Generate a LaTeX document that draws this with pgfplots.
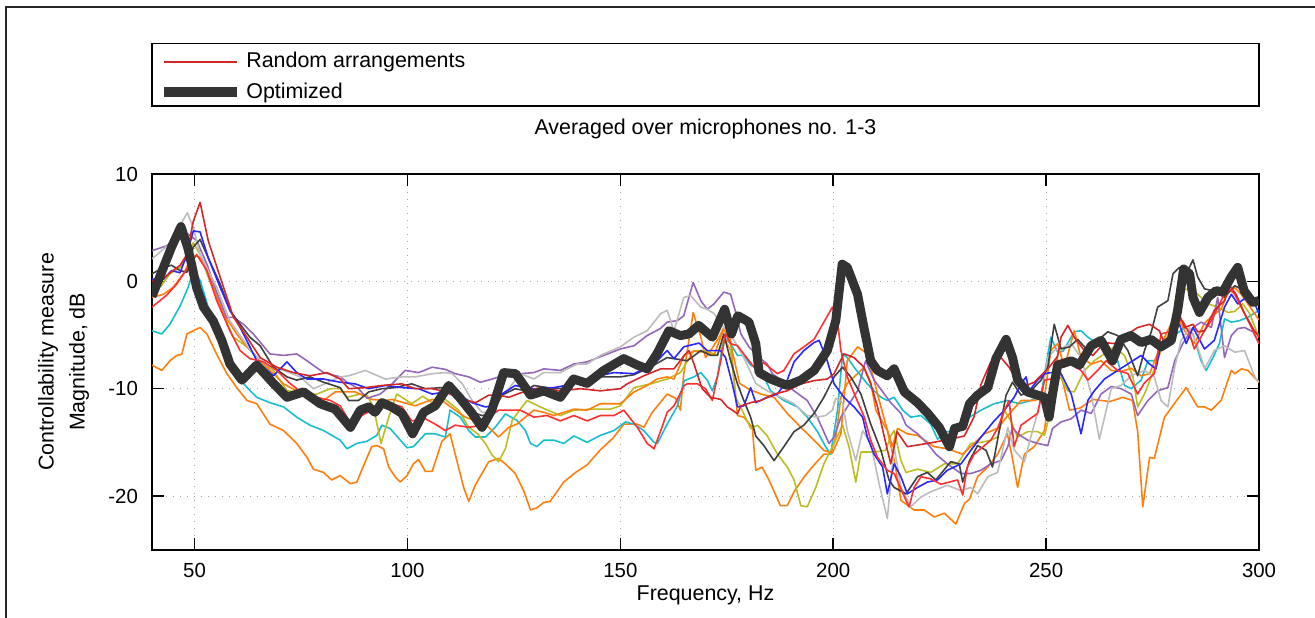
\documentclass[border=0pt]{standalone}
\usepackage{pgfplots}
\pgfplotsset{compat=1.18}
\usepackage{fontspec}
\setmainfont{Liberation Sans}
\definecolor{cRed}{RGB}{214,39,40}
\definecolor{cBRed}{RGB}{255,48,48}
\definecolor{cBlue}{RGB}{40,40,255}
\definecolor{cOrange}{RGB}{255,127,14}
\definecolor{cCyan}{RGB}{23,190,207}
\definecolor{cPurple}{RGB}{148,103,189}
\definecolor{cGray}{RGB}{188,188,188}
\definecolor{cOlive}{RGB}{188,189,34}
\definecolor{cDark}{RGB}{64,64,64}
\definecolor{cThick}{RGB}{51,51,51}
\begin{document}
\begin{tikzpicture}
\path[use as bounding box] (-76pt,-33.65pt) rectangle (581.5pt,274.85pt);
\draw[line width=0.75pt, black!85] (-73pt,-40pt) -- (-73pt,271.35pt) -- (600pt,271.35pt);
\draw[line width=0.75pt, black] (0pt,221.85pt) rectangle (553.5pt,253pt);
\begin{axis}[
  scale only axis, width=553.5pt, height=187.85pt,
  xmin=40, xmax=300, ymin=-25, ymax=10,
  xtick={50,100,150,200,250,300}, ytick={-20,-10,0,10},
  tick align=inside, major tick length=6pt,
  every tick/.style={black, line width=0.8pt},
  axis line style={line width=0.9pt},
  grid=major,
  major grid style={black!35, line width=0.5pt, dash pattern=on 0.5pt off 3pt},
  /pgf/number format/assume math mode=true,
  tick label style={font=\fontsize{10.2}{12}\selectfont},
  xticklabel style={anchor=base, inner sep=0pt, yshift=-13.8pt},
  yticklabel style={anchor=east, inner sep=0pt, xshift=-6.85pt},
  label style={font=\fontsize{10.7}{15.5}\selectfont},
  xlabel={Frequency, Hz},
  xlabel style={at={(axis description cs:0.5,-0.1363)}, anchor=base, inner sep=0pt},
  ylabel={Controllability measure\\Magnitude, dB},
  ylabel style={at={(axis description cs:-0.05646,0.5)}, anchor=south, inner sep=0pt, align=center},
  title={Averaged over microphones no. 1-3},
  title style={at={(axis description cs:0.5,1.0719)}, anchor=base, inner sep=0pt, font=\fontsize{10.7}{12}\selectfont},
  legend image code/.code={\draw[#1] (0pt,0pt) -- (36.5pt,0pt);},
  legend cell align=left,
  legend style={draw=none, fill=none, at={(axis description cs:0.00632,1.2582)}, anchor=west,
    inner sep=0pt, row sep=2pt, font=\fontsize{10.7}{13}\selectfont,
    /tikz/every even column/.append style={column sep=8pt}},
  every axis plot/.append style={line width=0.8pt, line join=round},
]
\addlegendimage{cRed, line width=0.8pt}
\addlegendentry{Random arrangements}
\addlegendimage{cThick, line width=5pt}
\addlegendentry{Optimized}

% orange low
\addplot[cOrange, forget plot] coordinates {
(40,-7.8)(42.3,-8.3)(44.2,-7.4)(45.8,-6.9)(47,-6.8)(48.2,-4.9)(49.7,-4.6)(51.3,-4.3)(52.9,-4.9)(55.2,-6.8)(57.6,-8.6)(59.9,-9.9)(62.3,-11.1)(64.6,-11.4)(67.7,-13.3)(70.9,-13.9)(74,-15.1)(76.4,-16.4)(77.9,-17.5)(80.3,-17.8)(82.2,-18.5)(84.2,-18.1)(86.6,-18.85)(88.1,-18.7)(90.1,-16.8)(91.6,-15.4)(92.8,-15.3)(94.4,-15.6)(95.6,-17.3)(97.1,-18.2)(98.3,-18.7)(99.9,-18.1)(101.4,-17.0)(102.6,-16.6)(104.2,-17.7)(105.8,-17.7)(108.1,-14.9)(110,-14.2)(111.6,-16.7)(113.2,-19.2)(114.4,-20.5)(115.9,-19.0)(117.5,-17.9)(119.1,-16.8)(121.4,-16.5)(123,-17.0)(125.3,-17.9)(127.3,-19.5)(128.9,-21.3)(130.4,-21.1)(132,-20.6)(133.5,-20.5)(136.7,-18.7)(139.5,-17.8)(142.2,-17.1)(145.3,-15.7)(148.3,-14.6)(150.8,-13.3)(154,-13.3)(155.5,-13.6)(157.5,-12.2)(161,-10.5)(163,-10.9)(164.1,-12.0)(164.9,-8.6)(167.1,-2.9)(168.9,-5.2)(170,-7.1)(171.2,-6.45)(173.2,-5.2)(174.3,-4.3)(175.9,-5.5)(177.5,-12.5)(179,-12.65)(181,-13.6)(181.8,-17.6)(183.3,-17.3)(184.9,-18.5)(187.6,-20.9)(189.2,-20.9)(190.8,-19.6)(193.2,-18.2)(195.5,-17.1)(197.8,-16.1)(199.4,-16.1)(200.6,-14.5)(201.8,-10.8)(203.3,-9.5)(205.7,-8.6)(207.2,-8.0)(208.8,-9.4)(210,-12.0)(212.7,-13.9)(214.5,-17.0)(215.9,-20.4)(219,-21.3)(221.4,-21.3)(223.7,-21.95)(226.1,-21.6)(228.8,-22.6)(230.8,-20.7)(232,-20.3)(233.9,-18.2)(236.3,-17.3)(238.6,-16.1)(240.9,-14.2)(242,-16.3)(243.3,-19.2)(244.9,-16.1)(247.2,-15.4)(249.6,-13.9)(251.1,-9.5)(252.5,-7.0)(254,-9.5)(255.5,-12.0)(258,-11.8)(261,-11.0)(265,-11.2)(268,-10.8)(270.3,-11.1)(271.5,-14.0)(272.7,-21.0)(274.3,-16.4)(275.4,-16.5)(277.8,-12.65)(280.1,-11.4)(282.9,-9.9)(285.6,-11.7)(287.2,-11.7)(288.8,-12.0)(291.1,-11.1)(293.5,-8.3)(294.3,-8.6)(295.9,-8.15)(297.4,-8.3)(300,-9.4)
};
% cyan
\addplot[cCyan, forget plot] coordinates {
(40,-4.6)(42.3,-4.9)(44.2,-4.0)(46.6,-2.3)(48.5,-0.55)(49.7,1.0)(51.3,0.1)(53.2,-2.4)(55.2,-4.6)(58.3,-8.0)(61.5,-9.55)(64.6,-10.8)(67.7,-11.3)(70.9,-11.7)(74,-12.65)(77.1,-13.4)(80.3,-13.9)(84.2,-14.8)(85.8,-15.6)(88.1,-15.1)(90.5,-14.9)(92.8,-14.35)(94,-13.4)(95.9,-13.7)(97.9,-14.6)(99.9,-15.5)(101.4,-15.4)(104.2,-14.2)(106.5,-14.2)(108.9,-14.5)(110,-12.0)(112.4,-12.65)(114.4,-13.9)(115.9,-14.5)(118.3,-14.5)(120.6,-13.6)(123,-12.35)(125.7,-12.95)(127.7,-13.9)(128.9,-15.1)(130.4,-15.4)(132,-14.8)(134.4,-14.8)(136.7,-15.1)(139.1,-14.4)(142.2,-15.0)(145.3,-14.35)(148.5,-13.9)(151.2,-13.1)(153.2,-13.3)(155.5,-13.9)(157.9,-15.0)(158.7,-15.1)(161,-13.3)(163.4,-11.6)(165,-9.25)(167.3,-8.9)(168.9,-8.5)(170.4,-9.2)(171.6,-10.2)(172.8,-8.9)(174.3,-5.2)(175.9,-5.8)(177.5,-6.9)(179,-6.9)(180.6,-7.8)(183,-8.3)(185.3,-10.2)(188.4,-11.1)(191.6,-11.7)(193.9,-12.65)(196.3,-14.0)(198.2,-15.4)(199.4,-16.1)(201,-12.0)(202.2,-6.75)(203.3,-7.1)(204.9,-8.0)(206.5,-8.8)(208,-9.55)(209.6,-10.2)(211.2,-10.8)(212.7,-11.1)(214.3,-10.8)(216.3,-12.0)(218.2,-12.65)(220.6,-12.5)(222.9,-13.3)(224.5,-14.7)(226.5,-14.0)(228,-14.0)(230,-13.6)(232,-12.65)(234.7,-12.0)(237.8,-11.4)(241,-11.1)(243.7,-11.4)(246.4,-11.1)(248.8,-10.6)(251.1,-5.2)(252.7,-6.6)(254,-6.5)(256.6,-4.7)(258.2,-4.6)(259.8,-5.2)(262.1,-5.8)(264.5,-6.45)(266.8,-7.4)(268.4,-9.7)(270,-10.0)(272.3,-9.2)(273.9,-7.4)(275.4,-7.4)(277,-6.45)(278.6,-5.8)(280.2,-5.05)(282.5,-4.3)(284.5,-4.9)(286.4,-7.4)(287.6,-8.3)(289.2,-7.1)(290.7,-5.8)(291.9,-3.5)(293.5,-3.8)(295.4,-3.66)(297.4,-3.35)(300,-2.7)
};
% olive
\addplot[cOlive, forget plot] coordinates {
(40,-0.4)(42,-0.5)(44.2,0.7)(46.6,1.3)(48.2,2.2)(49.7,3.6)(51.3,2.5)(53.2,0.4)(56,-2.4)(59.1,-5.2)(62.3,-6.1)(65.4,-7.4)(68.5,-8.3)(71.7,-10.2)(74,-10.3)(76.4,-10.6)(78.7,-10.5)(81.9,-10.0)(84.2,-10.0)(85.8,-10.8)(88.9,-10.5)(90.5,-10.6)(92,-11.7)(93.8,-15.1)(95.6,-12.65)(97.5,-10.5)(101,-11.4)(103.6,-10.7)(105.8,-11.3)(108.9,-11.0)(112,-12.0)(114.4,-13.6)(116.5,-14.2)(118.3,-15.1)(119.9,-16.2)(121.4,-16.8)(123,-15.6)(124.6,-12.95)(126.9,-11.7)(128.1,-11.1)(131.2,-11.7)(135.9,-12.5)(139.1,-12.0)(143.8,-11.9)(147.7,-11.9)(150,-11.6)(153.2,-9.9)(157.1,-9.55)(161,-9.1)(164.1,-8.5)(167.3,-6.45)(170.4,-6.5)(172.8,-6.9)(174.3,-5.2)(175.9,-6.45)(177.1,-10.8)(178.6,-12.0)(180.6,-13.7)(182.2,-13.4)(184.5,-14.4)(186.9,-16.1)(189.2,-17.3)(190.8,-18.5)(192.4,-20.9)(193.9,-21.0)(195.9,-19.2)(197.8,-17.0)(200.2,-15.1)(202.2,-13.4)(203.7,-15.4)(205.3,-18.7)(206.5,-15.9)(209.6,-15.9)(212.3,-15.75)(213.5,-14.4)(214.3,-13.9)(215.9,-16.7)(217.1,-17.8)(219.8,-17.5)(222.9,-17.8)(226.1,-17.0)(229.2,-17.0)(232.3,-15.1)(234.7,-15.0)(237,-14.8)(238.6,-14.5)(240.2,-12.0)(241.7,-13.0)(243.3,-14.5)(245.7,-14.0)(248,-14.0)(249.6,-14.35)(250.7,-12.65)(251.9,-8.9)(253.5,-9.0)(255.1,-10.2)(256.6,-10.3)(259,-8.3)(261.3,-7.4)(263.7,-6.75)(266,-6.1)(268.4,-6.9)(270.4,-8.9)(271.5,-11.7)(273.1,-10.5)(275.1,-8.5)(277,-6.45)(279.4,-4.3)(280.9,-0.5)(283.3,-0.8)(285.6,-1.2)(288,-2.1)(290.3,-2.4)(292.7,-2.9)(294.3,-2.8)(296.2,-2.1)(297.8,-3.0)(300,-5.2)
};
% orange mid
\addplot[cOrange, forget plot] coordinates {
(40,-1.5)(42.7,-1.2)(45,-0.55)(47.4,0.7)(48.9,1.9)(50.5,2.4)(52.1,1.9)(54.4,-0.55)(56.8,-3.0)(59.9,-4.9)(62.3,-6.1)(65.4,-7.4)(68.5,-8.6)(70.9,-9.55)(74,-10.2)(77.1,-10.8)(80.3,-11.1)(83,-10.3)(87.7,-10.3)(91.6,-11.0)(94.8,-11.1)(96.4,-11.0)(101.8,-11.6)(105.8,-11.0)(108.1,-11.1)(111.2,-12.0)(113.6,-12.65)(116,-13.0)(119.1,-13.6)(121.4,-14.5)(123.8,-13.6)(125.7,-13.3)(127.7,-12.65)(129.7,-12.0)(132,-12.2)(134.4,-12.5)(139.1,-11.9)(142.2,-12.0)(145.3,-11.4)(150,-11.4)(153.2,-10.3)(156.3,-9.7)(158.6,-9.1)(161,-8.9)(162.6,-9.1)(165,-6.9)(167.3,-6.5)(170,-6.6)(172,-6.9)(174.3,-4.4)(176,-6.0)(178,-9.5)(180,-10.0)(183,-10.5)(186.1,-10.8)(189.2,-12.3)(192.4,-13.6)(195.5,-14.8)(197.8,-15.75)(199.8,-16.0)(201.8,-14.2)(203.3,-7.4)(205.7,-6.1)(208,-6.75)(210.4,-10.5)(212.3,-13.3)(213.9,-15.4)(215.1,-13.7)(217.4,-14.2)(219.8,-14.35)(223.7,-15.4)(226.8,-15.6)(230.4,-16.1)(233.1,-15.1)(235.5,-14.2)(238.6,-13.7)(241,-12.5)(244.1,-11.1)(247.2,-11.1)(249.6,-10.8)(251.1,-6.45)(252.7,-5.8)(254.3,-8.0)(256.6,-4.6)(258.2,-7.1)(260.6,-7.7)(262.9,-7.4)(265.3,-8.3)(267.6,-8.4)(270,-8.1)(272.3,-8.8)(274.3,-8.6)(277,-5.9)(279.4,-3.9)(280.9,-3.3)(282.5,-4.6)(284.8,-5.8)(287.2,-3.9)(288.8,-3.3)(291.1,-2.6)(292.7,-1.0)(294.3,-0.6)(295.8,-1.2)(297.4,-2.1)(300,-3.6)
};
% purple
\addplot[cPurple, forget plot] coordinates {
(40,2.86)(43.4,3.3)(46.6,4.25)(48.5,4.4)(50.5,3.8)(53,1.5)(55,-0.8)(57.5,-3.35)(59.1,-3.35)(61.5,-4.0)(63.8,-4.9)(67.7,-6.76)(70.9,-6.9)(74,-6.76)(76.4,-7.4)(80.3,-8.5)(84.2,-8.9)(85.8,-9.4)(88.5,-10.0)(90.5,-10.9)(93.6,-10.5)(96,-9.7)(99.5,-8.3)(102.6,-8.5)(105.8,-8.0)(108.9,-8.2)(111.2,-8.6)(114.4,-8.9)(117.1,-9.4)(119.9,-9.1)(122.2,-8.8)(126.5,-8.6)(129.7,-8.5)(132,-8.15)(135.9,-8.3)(139.1,-7.7)(142.2,-7.5)(146.1,-6.9)(150,-6.3)(153.2,-6.0)(156.3,-5.05)(159.4,-4.4)(161,-3.8)(163.4,-3.66)(164.9,-3.2)(167.1,-0.1)(168.9,-1.8)(170.4,-2.6)(172,-2.1)(174.3,-1.0)(175.9,-1.2)(177.1,-2.9)(178.3,-4.9)(180.2,-6.1)(182.6,-7.1)(184.5,-7.7)(185.7,-8.6)(187.7,-9.2)(190.8,-10.2)(193.9,-11.1)(196.3,-12.7)(199,-15.1)(200.2,-14.5)(201.8,-12.65)(203.3,-11.7)(205.7,-10.2)(207.6,-7.4)(209.6,-9.2)(212,-10.5)(213.5,-11.3)(215.9,-12.3)(217.1,-13.4)(219.8,-14.2)(222.1,-15.1)(224.1,-16.1)(226.8,-17.0)(230,-17.9)(232.3,-17.9)(234.7,-17.6)(237,-17.0)(239.4,-16.7)(241,-15.4)(242.1,-13.6)(243.3,-14.2)(245.7,-14.8)(248,-15.1)(250.4,-15.3)(251.5,-13.7)(253.5,-13.1)(255.9,-12.8)(258.2,-12.0)(260.6,-12.3)(262.9,-10.5)(265.3,-9.8)(267.6,-10.0)(270,-10.5)(271.5,-12.5)(273.9,-11.1)(276.2,-10.2)(278.6,-9.9)(280.2,-7.4)(282.1,-5.8)(284.5,-4.3)(286.4,-3.8)(288.8,-4.3)(290.3,-1.5)(291.9,-7.1)(293.5,-5.05)(295,-4.4)(296.6,-4.3)(298.6,-4.7)(300,-5.8)
};
% light gray
\addplot[cGray, forget plot] coordinates {
(40,2.1)(44.2,3.5)(48.3,6.4)(49.7,5.0)(51.3,2.5)(55.2,-0.55)(58.3,-3.7)(61.5,-5.5)(63.8,-6.8)(67,-7.8)(70.9,-8.3)(74.8,-8.9)(77.9,-10.0)(80.3,-9.6)(84.2,-8.9)(86.2,-8.8)(90.1,-8.3)(94.8,-9.1)(98.7,-8.9)(101.8,-8.9)(105.8,-8.6)(108.9,-8.5)(110.5,-8.6)(112.8,-9.5)(115.2,-11.1)(117.5,-12.2)(119.9,-12.2)(121.4,-10.8)(123.8,-10.0)(126.5,-8.6)(129.7,-9.1)(132,-8.5)(135.9,-8.5)(139.9,-7.7)(142.2,-7.7)(145.3,-6.9)(150,-6.1)(153.2,-5.2)(156.3,-4.6)(159.5,-3.0)(161,-2.7)(162.6,-4.6)(164.9,-1.5)(166.5,-1.33)(168.9,-2.4)(170.4,-2.6)(172,-3.0)(174.3,-4.3)(176.7,-5.5)(179,-7.1)(181.8,-9.5)(184.5,-10.2)(187.7,-10.8)(190.8,-11.4)(192.4,-12.0)(193.9,-12.5)(196.3,-12.65)(198.2,-12.5)(199.8,-12.0)(200.6,-10.9)(202.2,-11.3)(203.3,-13.9)(205.3,-16.7)(206.9,-13.9)(208.8,-15.1)(210.8,-18.9)(212.7,-22.1)(214.3,-15.4)(215.9,-19.2)(218.2,-21.0)(220.6,-20.1)(222.9,-19.6)(226.8,-19.0)(230,-19.5)(232.3,-19.2)(233.9,-19.8)(236.3,-18.2)(238.6,-17.8)(241,-13.6)(242.5,-15.7)(244.9,-16.8)(246.4,-14.5)(248.8,-11.1)(250.4,-7.1)(251.9,-6.45)(254.3,-6.1)(255.9,-5.8)(258.2,-7.1)(260.6,-10.5)(262.5,-14.7)(265.3,-10.0)(267.6,-9.7)(270,-8.8)(273.1,-8.3)(275.4,-8.9)(277,-11.1)(278.6,-11.7)(280.2,-8.0)(281.7,-5.5)(283.7,-4.3)(285.6,-6.1)(287.2,-8.15)(289.5,-6.45)(291.9,-6.0)(294.3,-6.6)(296.6,-6.45)(299,-8.9)(300,-9.4)
};
% dark gray
\addplot[cDark, forget plot] coordinates {
(40,0.7)(42.7,1.3)(44.6,1.5)(46.6,1.0)(48.2,0.85)(49.7,3.2)(51.3,3.9)(53.2,2.2)(56,-0.25)(58.3,-2.7)(60.7,-4.0)(63,-5.2)(65.4,-6.0)(68.5,-8.0)(71.7,-8.9)(74,-9.2)(77.1,-8.9)(80.3,-9.4)(84.2,-9.9)(86.2,-11.1)(88.5,-11.1)(90.9,-10.3)(94,-10.0)(97.1,-9.9)(101,-9.55)(104.2,-10.0)(108.1,-9.9)(110.5,-10.3)(112.8,-11.1)(115.2,-12.2)(117.5,-12.5)(119.9,-12.35)(122.2,-10.6)(125.3,-10.0)(127.7,-10.2)(129.7,-9.7)(132.8,-9.9)(136.7,-10.0)(140.6,-9.25)(145.3,-8.9)(150,-8.9)(153.2,-8.7)(157,-8.0)(161,-7.1)(165.7,-7.4)(168.9,-6.45)(171.2,-6.9)(172.8,-6.9)(174.3,-4.9)(175.9,-7.4)(177.5,-9.55)(179,-11.1)(180.6,-12.65)(181.8,-14.4)(183.7,-15.3)(186.1,-16.7)(188.4,-15.4)(190.8,-14.0)(193.1,-13.4)(195.5,-12.3)(197.8,-10.8)(200.2,-8.9)(202.2,-8.0)(204.1,-8.9)(206.5,-10.5)(208.8,-13.3)(211.2,-15.75)(213.1,-18.5)(214.3,-19.2)(217.1,-19.8)(219.8,-18.2)(222.1,-17.8)(224.1,-18.5)(227.6,-16.8)(229.6,-17.0)(230.4,-18.7)(232,-16.7)(233.9,-15.3)(235.9,-15.75)(237.4,-17.3)(239,-13.9)(240.6,-10.6)(242.1,-9.4)(244.1,-10.6)(246.4,-10.2)(248.8,-9.2)(250.4,-8.0)(251.9,-4.0)(253.5,-6.3)(255.5,-6.1)(257.4,-5.4)(259.8,-6.45)(262.1,-5.5)(264.5,-4.7)(266.8,-5.05)(269.2,-6.45)(271.5,-8.8)(273.1,-6.45)(274.7,-4.7)(276.2,-2.4)(278.6,-1.8)(279.8,0.7)(281.3,1.3)(282.9,0.7)(284.5,2.0)(285.6,0.4)(287.2,-0.7)(289.5,-0.9)(291.9,-1.5)(294.3,-0.4)(296.6,-0.9)(299,-1.6)(300,-1.8)
};
% blue
\addplot[cBlue, forget plot] coordinates {
(40,0.2)(42.7,0.2)(44.6,1.0)(46.6,0.8)(48.2,2.5)(49.7,4.7)(51.3,4.6)(53.2,2.2)(56,-0.55)(58.3,-2.7)(60.7,-4.3)(63,-6.1)(64.6,-7.4)(68.5,-8.8)(71.7,-7.5)(74,-8.5)(76.4,-9.1)(80.3,-9.1)(84.2,-9.4)(87.7,-9.55)(90.9,-10.0)(94.8,-9.7)(98.7,-9.9)(102.6,-10.0)(105.8,-10.5)(108.9,-10.3)(112,-10.6)(115.2,-11.3)(118.3,-11.7)(119.9,-11.6)(122.2,-10.5)(125.3,-9.7)(127.7,-9.9)(129.7,-10.0)(134.4,-9.9)(139.1,-9.55)(143.8,-8.9)(148.5,-8.5)(153.2,-8.6)(157.9,-7.7)(161,-6.45)(162.6,-7.2)(164.9,-6.1)(168.5,-5.75)(170.4,-6.45)(173.5,-6.45)(174.7,-7.1)(176.3,-9.55)(177.5,-11.7)(179,-11.6)(180.6,-9.9)(181.8,-11.3)(184.5,-10.8)(186.9,-10.5)(189.2,-9.2)(190.8,-7.5)(193.1,-6.45)(195.5,-5.7)(196.7,-5.5)(198.6,-7.4)(200.2,-9.55)(202.5,-10.8)(204.9,-11.7)(206.9,-12.65)(208,-14.5)(209.6,-16.1)(211.6,-17.3)(212.7,-19.8)(214.3,-17.0)(215.9,-18.2)(217.4,-19.8)(219.8,-19.2)(222.1,-18.7)(224.5,-18.5)(226.8,-17.6)(230,-17.0)(232.3,-15.75)(234.7,-14.5)(237.8,-13.0)(240.2,-12.0)(242.5,-10.8)(244.1,-9.55)(245.3,-8.9)(246,-10.2)(248,-9.2)(249.6,-8.6)(251.1,-8.5)(253.5,-8.6)(255.9,-10.5)(258.2,-14.2)(259.8,-11.1)(261.3,-10.2)(263.7,-9.1)(266.8,-8.3)(269.2,-7.7)(272.3,-6.9)(274.3,-7.7)(275.8,-8.15)(277,-5.8)(280.2,-4.7)(281.3,-4.0)(282.9,-5.8)(284.5,-4.3)(287.2,-6.3)(289.5,-5.5)(291.9,-2.4)(293.5,-1.2)(295,-2.1)(296.6,-1.6)(299,-2.1)(300,-3.0)
};
% bright red
\addplot[cBRed, forget plot] coordinates {
(40,-2.4)(43.4,-1.3)(45.8,-0.25)(47.4,0.7)(48.9,1.6)(50.5,2.5)(52.9,1.0)(55.2,-1.8)(58.3,-4.6)(60.7,-6.45)(63,-7.2)(66.2,-7.5)(69.3,-8.3)(72.4,-9.5)(75.6,-10.5)(78.7,-10.8)(81.9,-11.1)(84.2,-11.6)(86.9,-13.4)(89.3,-12.5)(91.6,-12.0)(94,-11.6)(95.6,-11.3)(98.7,-11.7)(101,-13.0)(104.2,-12.8)(106.5,-13.3)(108.9,-13.9)(111.2,-13.4)(114.4,-13.6)(117.5,-13.4)(119.1,-12.65)(121.4,-12.0)(126.5,-12.0)(129.7,-12.65)(132.8,-12.5)(135.9,-13.0)(139.1,-12.5)(142.2,-13.0)(145.3,-12.5)(148.5,-12.5)(150.8,-12.0)(154,-13.6)(156.3,-15.1)(157.9,-15.6)(159.5,-13.9)(161,-12.2)(162.6,-11.6)(165,-9.7)(165.7,-9.55)(168.1,-9.55)(170,-10.0)(171.6,-11.1)(173.6,-7.4)(174.7,-4.9)(175.9,-5.8)(177.5,-6.0)(181.4,-8.0)(183.7,-7.6)(186.9,-8.6)(188.4,-8.3)(190.8,-6.75)(193.1,-6.1)(195.5,-5.4)(197.8,-3.8)(199.8,-2.4)(200.9,-3.35)(201.8,-6.45)(203.3,-8.9)(205.3,-10.8)(207.3,-12.65)(208.8,-14.8)(210.4,-16.4)(212.7,-17.6)(214.3,-17.9)(217.1,-20.4)(217.8,-21.0)(219,-19.2)(220.6,-18.2)(222.9,-18.4)(225.3,-18.9)(229.2,-18.5)(230.4,-19.9)(231.5,-17.3)(233.1,-16.1)(237,-14.8)(238.6,-13.7)(240.2,-12.0)(241.3,-11.1)(242.5,-15.4)(244.1,-13.4)(248,-12.3)(249.6,-9.2)(251.1,-9.1)(253.5,-7.4)(255.9,-7.7)(258.2,-8.3)(259.8,-9.2)(262.1,-8.3)(264.1,-7.4)(266.8,-8.3)(269.2,-8.6)(271.5,-10.5)(273,-9.5)(275.4,-8.6)(277,-4.9)(279,-4.7)(280.5,-3.35)(282.1,-3.7)(283.7,-4.9)(284.8,-6.3)(287.2,-4.6)(288.8,-3.66)(291.1,-1.8)(292.7,-0.55)(294.3,-1.2)(296.2,-2.7)(298.6,-4.6)(300,-5.8)
};
% dark red
\addplot[cRed, forget plot] coordinates {
(40,0.0)(42.7,0.3)(44.6,0.9)(46.6,1.5)(48.2,2.5)(49.7,5.6)(51.3,7.35)(53.2,3.8)(56,0.4)(59.1,-3.3)(62.3,-5.2)(65.4,-7.1)(69.3,-8.0)(73.2,-8.5)(77.1,-8.8)(81.1,-8.5)(84.2,-9.1)(86.2,-10.0)(90.1,-9.9)(94,-9.7)(98.7,-9.55)(101.8,-10.0)(105.8,-10.0)(108.1,-10.2)(112.8,-10.95)(116,-11.3)(119.1,-10.6)(121.4,-10.6)(123.8,-10.8)(126.5,-10.4)(131.2,-9.9)(135.9,-10.2)(140.6,-10.0)(145.3,-10.2)(150,-10.0)(151.6,-9.55)(155.5,-8.8)(159.5,-8.15)(162.6,-8.15)(165,-6.9)(166.1,-6.45)(167.3,-7.7)(169.2,-10.0)(171.2,-10.8)(173.6,-11.0)(175.1,-11.7)(176.3,-12.0)(177.5,-12.35)(178.3,-11.6)(180.6,-11.3)(183,-11.1)(186.1,-10.5)(189.2,-10.2)(192.4,-9.55)(195.5,-9.25)(198.6,-9.1)(200.2,-8.6)(202.5,-6.75)(204.9,-7.1)(207.2,-8.0)(208.8,-9.55)(210.4,-11.7)(212,-14.5)(213.5,-17.0)(215,-14.0)(217.4,-15.4)(222.1,-15.1)(227.6,-14.7)(230.8,-14.4)(233.1,-12.6)(234.7,-9.6)(237,-7.5)(239.4,-7.1)(241.3,-8.0)(244.1,-9.9)(247.2,-9.4)(250.4,-8.15)(252.7,-7.0)(253.5,-5.2)(255.1,-4.1)(256.6,-5.2)(259,-6.45)(261,-6.9)(263.7,-5.7)(266,-5.8)(269.2,-4.9)(271.5,-4.3)(274.3,-4.0)(276.6,-4.6)(277.8,-5.8)(279.4,-4.9)(280.9,-2.7)(282.5,-4.3)(284.5,-4.0)(285.6,-4.7)(287.2,-4.6)(289.5,-2.7)(291.9,-1.8)(293.1,-0.4)(294.6,-1.2)(296.6,-3.0)(298.6,-4.4)(300,-5.2)
};
% optimized
\addplot[cThick, line width=4.5pt, forget plot] coordinates {
(40,-1.4)(42.7,1.3)(44.6,3.2)(46.8,5.1)(48.5,3.0)(50.5,-0.6)(52.1,-2.4)(54.4,-3.7)(56.4,-5.5)(58.3,-7.7)(61.1,-9.2)(64.6,-7.8)(68.5,-9.5)(71.7,-10.8)(75.6,-10.3)(79.5,-11.4)(83,-11.9)(86.6,-13.6)(88.9,-12.0)(90.9,-11.7)(92.4,-12.2)(94,-11.3)(96.3,-11.7)(98.7,-12.3)(101.2,-14.2)(103.8,-12.2)(106.5,-11.6)(109.7,-9.7)(112.4,-10.9)(115.2,-12.3)(117.5,-13.6)(119.8,-12.0)(122.6,-8.5)(125.4,-8.6)(127.7,-9.9)(128.9,-10.6)(132,-10.2)(135.9,-10.8)(139,-9.1)(142.2,-9.5)(146.1,-8.3)(150.8,-7.2)(154,-7.8)(156.3,-8.15)(158.6,-6.75)(161.4,-4.6)(164.1,-5.05)(166.1,-4.9)(168.4,-4.1)(171.6,-5.2)(174.5,-2.6)(176.1,-4.9)(177.6,-3.2)(180.2,-3.8)(181.8,-5.8)(182.6,-8.5)(185.3,-9.1)(189.2,-9.7)(192.4,-9.2)(195.5,-8.3)(198.6,-6.45)(200.6,-3.66)(202.1,1.6)(203.3,1.3)(205.7,-1.2)(207.2,-4.3)(208.8,-7.4)(210.4,-8.3)(212.7,-8.8)(214.3,-8.15)(216.7,-10.3)(219.8,-11.3)(222.2,-12.3)(224.9,-13.6)(227.3,-15.4)(228.5,-13.7)(230.4,-13.5)(232,-11.4)(233.9,-10.6)(236.3,-9.9)(238.2,-7.2)(240.6,-5.4)(242.1,-7.1)(243.3,-9.2)(245.6,-10.3)(248,-10.6)(249.6,-10.8)(250.7,-12.65)(251.5,-10.5)(252.7,-7.8)(255.9,-7.4)(257.8,-7.8)(260.6,-6.0)(262.9,-5.5)(265.6,-7.4)(267.6,-5.4)(269.9,-5.05)(272.3,-5.7)(274.6,-5.4)(277,-6.1)(279.4,-5.5)(280.9,-2.7)(282.3,1.15)(283.7,0.7)(284.5,-1.5)(286,-2.9)(288,-1.5)(289.9,-0.87)(291.5,-1.0)(293.4,0.37)(295,1.3)(296.5,-0.87)(298.5,-1.95)(300,-1.8)
};
\end{axis}
\end{tikzpicture}
\end{document}
